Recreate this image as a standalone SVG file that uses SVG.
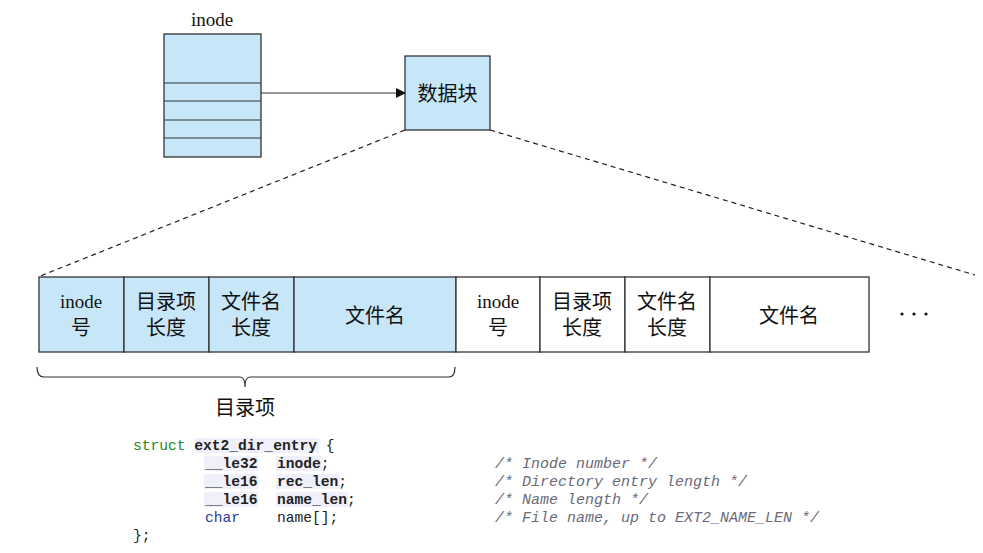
<svg xmlns="http://www.w3.org/2000/svg" width="983" height="553" viewBox="0 0 983 553">
<defs>
<style>
.blue{fill:#c7e7f8;stroke:#333;stroke-width:1.3}
.white{fill:#fff;stroke:#333;stroke-width:1.3}
.ln{stroke:#333;stroke-width:1.2;fill:none}
.dash{stroke:#222;stroke-width:1.2;stroke-dasharray:5,4;fill:none}
.cn{font-family:"Liberation Sans","Noto Sans CJK SC",sans-serif;font-size:20px;fill:#111;text-anchor:middle}
.sr{font-family:"Liberation Serif","Noto Sans CJK SC",serif;font-size:19px;fill:#111;text-anchor:middle}
.code{font-family:"Liberation Mono",monospace;font-size:14.6px;fill:#222}
.b{font-weight:bold}
.kw{fill:#1e8a1e}
.ty{fill:#2b3a9a}
.cm{fill:#6a6a7a;font-style:italic;font-size:15px}
.hl{fill:#f0f0fa}
</style>
<marker id="arr" markerWidth="10" markerHeight="10" refX="9" refY="5" orient="auto" markerUnits="userSpaceOnUse">
<path d="M0,0 L10,5 L0,10 z" fill="#111"/>
</marker>
</defs>

<g id="inode">
<text class="sr" x="212" y="26">inode</text>
<rect class="blue" x="164" y="34" width="97" height="123"/>
<line class="ln" x1="164" y1="83" x2="261" y2="83"/>
<line class="ln" x1="164" y1="101" x2="261" y2="101"/>
<line class="ln" x1="164" y1="120" x2="261" y2="120"/>
<line class="ln" x1="164" y1="138" x2="261" y2="138"/>
</g>

<g id="datablock">
<rect class="blue" x="405" y="56" width="85" height="74"/>
<text class="cn" x="447.5" y="101">数据块</text>
</g>

<g id="connectors">
<line class="ln" x1="261" y1="93" x2="405" y2="93" marker-end="url(#arr)"/>
<line class="dash" x1="405" y1="130" x2="38" y2="277"/>
<line class="dash" x1="490" y1="130" x2="975" y2="275"/>
</g>

<g id="entry1">
<rect class="blue" x="39" y="277" width="85" height="75"/>
<text class="sr" x="81" y="308">inode</text>
<text class="cn" x="81" y="335">号</text>
<rect class="blue" x="124" y="277" width="85" height="75"/>
<text class="cn" x="166" y="309">目录项</text>
<text class="cn" x="166" y="335">长度</text>
<rect class="blue" x="209" y="277" width="85" height="75"/>
<text class="cn" x="251" y="309">文件名</text>
<text class="cn" x="251" y="335">长度</text>
<rect class="blue" x="294" y="277" width="162" height="75"/>
<text class="cn" x="375" y="323">文件名</text>
</g>

<g id="entry2">
<rect class="white" x="456" y="277" width="84" height="75"/>
<text class="sr" x="498" y="308">inode</text>
<text class="cn" x="498" y="335">号</text>
<rect class="white" x="540" y="277" width="85" height="75"/>
<text class="cn" x="582" y="309">目录项</text>
<text class="cn" x="582" y="335">长度</text>
<rect class="white" x="625" y="277" width="85" height="75"/>
<text class="cn" x="667" y="309">文件名</text>
<text class="cn" x="667" y="335">长度</text>
<rect class="white" x="710" y="277" width="159" height="75"/>
<text class="cn" x="789" y="323">文件名</text>
</g>

<g id="dots">
<circle cx="902" cy="314" r="1.6" fill="#111"/>
<circle cx="914" cy="314" r="1.6" fill="#111"/>
<circle cx="926" cy="314" r="1.6" fill="#111"/>
</g>

<g id="brace">
<path class="ln" d="M37,367 Q37,377 44,377 L240,377 Q245,377 245,387 Q245,377 250,377 L449,377 Q455,377 455,367"/>
<text class="cn" x="245" y="415">目录项</text>
</g>

<g id="code">
<rect class="hl" x="195" y="438" width="124" height="15"/>
<rect class="hl" x="204" y="456" width="54" height="15"/>
<rect class="hl" x="276" y="456" width="46" height="15"/>
<rect class="hl" x="204" y="474" width="54" height="15"/>
<rect class="hl" x="276" y="474" width="64" height="15"/>
<rect class="hl" x="204" y="492" width="54" height="15"/>
<rect class="hl" x="276" y="492" width="72" height="15"/>
<text class="code" x="133" y="450"><tspan class="kw">struct</tspan> <tspan class="b">ext2_dir_entry</tspan> {</text>
<text class="code b" x="205" y="468">__le32</text><text class="code" x="277" y="468"><tspan class="b">inode</tspan>;</text>
<text class="code b" x="205" y="486">__le16</text><text class="code" x="277" y="486"><tspan class="b">rec_len</tspan>;</text>
<text class="code b" x="205" y="504">__le16</text><text class="code" x="277" y="504"><tspan class="b">name_len</tspan>;</text>
<text class="code ty" x="205" y="522">char</text><text class="code" x="277" y="522">name[];</text>
<text class="code" x="133" y="540">};</text>
<text class="code cm" x="495" y="468">/* Inode number */</text>
<text class="code cm" x="495" y="486">/* Directory entry length */</text>
<text class="code cm" x="495" y="504">/* Name length */</text>
<text class="code cm" x="495" y="522">/* File name, up to EXT2_NAME_LEN */</text>
</g>
</svg>
